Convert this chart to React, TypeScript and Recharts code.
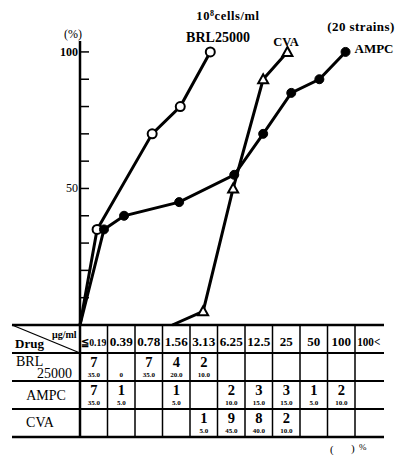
import { ComposedChart, Line, XAxis, YAxis } from 'recharts';

// MIC columns (μg/ml)
const micLabels = ['≦0.19', '0.39', '0.78', '1.56', '3.13', '6.25', '12.5', '25', '50', '100', '100<'];

// strain counts and percentages per MIC column ('' = empty cell)
const brlCounts = ['7', '', '7', '4', '2', '', '', '', '', '', ''];
const brlPcts = ['35.0', '0', '35.0', '20.0', '10.0', '', '', '', '', '', ''];
const ampcCounts = ['7', '1', '', '1', '', '2', '3', '3', '1', '2', ''];
const ampcPcts = ['35.0', '5.0', '', '5.0', '', '10.0', '15.0', '15.0', '5.0', '10.0', ''];
const cvaCounts = ['', '', '', '', '1', '9', '8', '2', '', '', ''];
const cvaPcts = ['', '', '', '', '5.0', '45.0', '40.0', '10.0', '', '', ''];

// cumulative curves, x in MIC column units as drawn on the plot
const brlX = [0, 0.62, 2.62, 3.64, 4.73];
const brlCum = [0, 35, 70, 80, 100];
const ampcX = [0, 0.87, 1.6, 3.6, 5.6, 6.65, 7.67, 8.69, 9.64];
const ampcCum = [0, 35, 40, 45, 55, 70, 85, 90, 100];
const cvaX = [3.35, 4.47, 5.56, 6.65, 7.53];
const cvaCum = [0, 5, 50, 90, 100];

const yTicks = [0, 10, 20, 30, 40, 50, 60, 70, 80, 90, 100];
const yLabels = [50, 100];

const toRows = (xs: number[], ys: number[]) => xs.map((x, i) => ({ x, pct: ys[i] }));

const FONT = '"Liberation Serif", "DejaVu Serif", serif';

const OpenCircle = (p: any) =>
  p.payload.pct === 0 ? <g key={p.key} /> : (
    <circle key={p.key} cx={p.cx} cy={p.cy} r={4.5} fill="#fff" stroke="#000" strokeWidth={2} />
  );

const FilledCircle = (p: any) =>
  p.payload.pct === 0 ? <g key={p.key} /> : (
    <circle key={p.key} cx={p.cx} cy={p.cy} r={4.5} fill="#000" stroke="#000" strokeWidth={1} />
  );

const Triangle = (p: any) =>
  p.payload.pct === 0 ? <g key={p.key} /> : (
    <polygon
      key={p.key}
      points={`${p.cx},${p.cy - 5} ${p.cx - 5},${p.cy + 4} ${p.cx + 5},${p.cy + 4}`}
      fill="#fff"
      stroke="#000"
      strokeWidth={2}
    />
  );

const YTick = (p: any) => {
  const v = p.payload.value;
  const ax = p.x + 3;
  return (
    <g>
      {v > 0 && <line x1={ax} x2={ax + 9} y1={p.y} y2={p.y} stroke="#000" strokeWidth={1.5} />}
      {yLabels.includes(v) && (
        <text x={ax - 2} y={p.y + 4} textAnchor="end" fontFamily={FONT} fontSize={12}
          fontWeight={v === 100 ? 'bold' : 'normal'} fill="#000">{v}</text>
      )}
    </g>
  );
};

const colW = 27.5;
const col0 = 80;
const rowTops = [325, 353, 381, 409, 437];

const DrugTable = () => {
  const rows = [
    { counts: brlCounts, pcts: brlPcts },
    { counts: ampcCounts, pcts: ampcPcts },
    { counts: cvaCounts, pcts: cvaPcts },
  ];
  return (
    <svg width={404} height={455} style={{ position: 'absolute', left: 0, top: 0 }} fontFamily={FONT}>
      {rowTops.map((y, i) => (
        <line key={'h' + i} x1={12} x2={384} y1={y} y2={y} stroke="#000"
          strokeWidth={i === 0 || i === rowTops.length - 1 ? 2.5 : 2} />
      ))}
      {micLabels.map((_, i) => (
        <line key={'v' + i} x1={col0 + i * colW} x2={col0 + i * colW} y1={325} y2={437}
          stroke="#000" strokeWidth={i === 0 ? 2.5 : 1.5} />
      ))}
      <line x1={12} y1={325} x2={80} y2={353} stroke="#000" strokeWidth={1.3} />
      <text x={52} y={338} fontSize={10} fontWeight="bold">μg/ml</text>
      <text x={15} y={348} fontSize={13} fontWeight="bold">Drug</text>
      <text x={16} y={366} fontSize={14}>BRL</text>
      <text x={72} y={378} fontSize={14} textAnchor="end">25000</text>
      <text x={46} y={400} fontSize={14} textAnchor="middle">AMPC</text>
      <text x={40} y={427} fontSize={14} textAnchor="middle">CVA</text>
      {micLabels.map((m, i) => (
        <text key={'m' + i} x={col0 + (i + 0.5) * colW} y={346} fontSize={m.length > 4 ? 11 : 13}
          fontWeight="bold" textAnchor="middle"
          {...(m.length > 3 ? { textLength: m.length > 4 ? 25 : 23, lengthAdjust: 'spacingAndGlyphs' } : {})}>{m}</text>
      ))}
      {rows.map((r, ri) =>
        micLabels.map((_, ci) => {
          const cx = col0 + (ci + 0.5) * colW;
          const top = rowTops[ri + 1];
          return (
            <g key={`c${ri}-${ci}`}>
              {r.counts[ci] && (
                <text x={cx} y={top + 14} fontSize={14.5} fontWeight="bold" textAnchor="middle">{r.counts[ci]}</text>
              )}
              {r.pcts[ci] && (
                <text x={cx} y={top + 24} fontSize={7} fontWeight="bold" textAnchor="middle">{r.pcts[ci]}</text>
              )}
            </g>
          );
        })
      )}
      <text x={330} y={453} fontSize={11}>(</text>
      <text x={351} y={452} fontSize={11}>)</text>
      <text x={359} y={450} fontSize={9}>%</text>
    </svg>
  );
};

const Labels = () => (
  <svg width={404} height={120} style={{ position: 'absolute', left: 0, top: 0 }} fontFamily={FONT}>
    <text x={228} y={20} fontSize={12.5} fontWeight="bold" textAnchor="middle" letterSpacing={0.6}>
      10<tspan fontSize={8} dy={-4}>8</tspan><tspan dy={4}>cells/ml</tspan>
    </text>
    <text x={218} y={42} fontSize={14} fontWeight="bold" textAnchor="middle">BRL25000</text>
    <text x={286} y={46} fontSize={12.5} fontWeight="bold" textAnchor="middle">CVA</text>
    <text x={361} y={31} fontSize={13} fontWeight="bold" textAnchor="middle" letterSpacing={0.4}>(20 strains)</text>
    <text x={374} y={53} fontSize={13} fontWeight="bold" textAnchor="middle">AMPC</text>
    <text x={73} y={38} fontSize={12} textAnchor="middle">(%)</text>
  </svg>
);

export default function App() {
  return (
    <div style={{ position: 'absolute', left: 0, top: 0, width: 404, height: 455, background: '#fff' }}>
      <div style={{ position: 'absolute', left: 0, top: 0 }}>
        <ComposedChart width={404} height={330} margin={{ top: 41, right: 21, left: 0, bottom: 5 }}>
          <XAxis type="number" dataKey="x" domain={[0, 11]} hide />
          <YAxis type="number" domain={[0, 104]} ticks={yTicks} interval={0} width={80}
            tickSize={0} tickMargin={3} tick={YTick}
            axisLine={{ stroke: '#000', strokeWidth: 2.5 }} tickLine={false} />
          <Line data={toRows(brlX, brlCum)} dataKey="pct" type="linear" stroke="#000" strokeWidth={3}
            dot={OpenCircle} isAnimationActive={false} />
          <Line data={toRows(cvaX, cvaCum)} dataKey="pct" type="linear" stroke="#000" strokeWidth={3}
            dot={Triangle} isAnimationActive={false} />
          <Line data={toRows(ampcX, ampcCum)} dataKey="pct" type="linear" stroke="#000" strokeWidth={3}
            dot={FilledCircle} isAnimationActive={false} />
        </ComposedChart>
      </div>
      <Labels />
      <DrugTable />
    </div>
  );
}
